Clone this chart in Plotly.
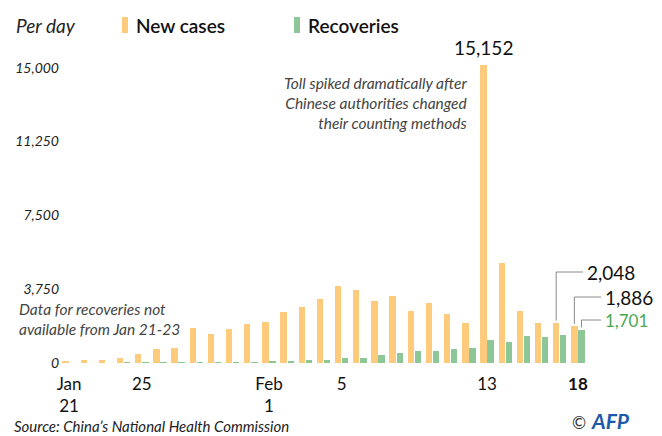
import plotly.graph_objects as go

# ---- data ----
dates = ["Jan 21", "Jan 22", "Jan 23", "Jan 24", "Jan 25", "Jan 26", "Jan 27", "Jan 28",
         "Jan 29", "Jan 30", "Jan 31", "Feb 1", "Feb 2", "Feb 3", "Feb 4", "Feb 5", "Feb 6",
         "Feb 7", "Feb 8", "Feb 9", "Feb 10", "Feb 11", "Feb 12", "Feb 13", "Feb 14",
         "Feb 15", "Feb 16", "Feb 17", "Feb 18"]
new_cases = [77, 149, 131, 259, 444, 688, 769, 1771, 1459, 1737, 1982, 2102, 2590, 2829,
             3235, 3887, 3694, 3143, 3399, 2656, 3062, 2478, 2015, 15152, 5090, 2641,
             2009, 2048, 1886]
recoveries = [None, None, None, 6, 3, 11, 2, 9, 43, 21, 47, 72, 85, 147, 157, 262, 261,
              387, 510, 599, 632, 715, 744, 1171, 1081, 1373, 1323, 1425, 1701]
tick_dates = ["Jan 21", "Jan 25", "Feb 1", "Feb 5", "Feb 13", "Feb 18"]
tick_text = ["Jan<br>21", "25", "Feb<br>1", "5", "13", "<b>18</b>"]
y_ticks = [0, 3750, 7500, 11250, 15000]
y_tick_text = ["0", "3,750", "7,500", "11,250", "15,000"]
note_spike = ["Toll spiked dramatically after", "Chinese authorities changed",
              "their counting methods"]
note_recov = ["Data for recoveries not", "available from Jan 21-23"]

ORANGE = "#FDCB7B"
GREEN = "#8DC697"
FONT = "Lato"

W, H = 662, 436
ML, MR, MT, MB = 60, 75, 48, 73
PW, PH = W - ML - MR, H - MT - MB
YMAX = 16000
XMIN, XMAX = -0.5, len(dates) - 0.5
BW = 0.35
OFF_O, OFF_G = -0.37, 0.02

idx = list(range(len(dates)))

def xp(v):  # data x -> paper
    return (v - XMIN) / (XMAX - XMIN)

def yp(v):  # data y -> paper
    return v / YMAX

def pxx(p):  # pixel x -> paper
    return (p - ML) / PW

def pxy(p):  # pixel y -> paper
    return (H - MB - p) / PH

fig = go.Figure()
fig.add_trace(go.Bar(x=idx, y=new_cases, width=BW, offset=OFF_O, marker_color=ORANGE,
                     marker_line_width=0, name="New cases", showlegend=False))
fig.add_trace(go.Bar(x=idx, y=recoveries, width=BW, offset=OFF_G, marker_color=GREEN,
                     marker_line_width=0, name="Recoveries", showlegend=False))

shapes = []
ann = []
line_col = "#8a8a8a"

def txt(text, x_px, y_px, xanchor="left", yanchor="middle", size=15, color="#222",
        align="left", **fkw):
    ann.append(dict(text=text, x=pxx(x_px), y=pxy(y_px), xref="paper", yref="paper",
                    xanchor=xanchor, yanchor=yanchor, align=align, showarrow=False,
                    font=dict(family=FONT, size=size, color=color, **fkw)))

# legend
shapes.append(dict(type="rect", xref="paper", yref="paper", x0=pxx(122), x1=pxx(128),
                   y0=pxy(33), y1=pxy(17), fillcolor=ORANGE, line_width=0))
shapes.append(dict(type="rect", xref="paper", yref="paper", x0=pxx(294), x1=pxx(300),
                   y0=pxy(33), y1=pxy(17), fillcolor=GREEN, line_width=0))
txt("Per day", 14, 25, size=19, color="#222", style="italic")
txt("New cases", 134, 25, size=19, color="#111", weight=600)
txt("Recoveries", 306, 25, size=19, color="#111", weight=600)

# peak label
ipk = new_cases.index(max(new_cases))
ann.append(dict(text=f"{new_cases[ipk]:,}", x=xp(ipk + OFF_O + BW / 2), y=yp(new_cases[ipk]),
                xref="paper", yref="paper", xanchor="center", yanchor="bottom",
                yshift=4, showarrow=False,
                font=dict(family=FONT, size=19, color="#111")))
txt("<br>".join(note_spike), 469, 103, xanchor="right", align="right", size=15.5,
    color="#444", style="italic")
txt("<br>".join(note_recov), 17, 319, xanchor="left", align="left", size=15.5,
    color="#444", style="italic")

# leader lines + labels for last values
def leader(xc, ytop_val, y_px, x_end_px, text, color, size):
    shapes.append(dict(type="line", xref="paper", yref="paper", x0=xp(xc), x1=xp(xc),
                       y0=yp(ytop_val) + 2 / PH, y1=pxy(y_px), line=dict(color=line_col, width=1)))
    shapes.append(dict(type="line", xref="paper", yref="paper", x0=xp(xc), x1=pxx(x_end_px),
                       y0=pxy(y_px), y1=pxy(y_px), line=dict(color=line_col, width=1)))
    txt(text, x_end_px + 2, y_px, size=size, color=color)

n = len(dates)
leader(n - 2 + OFF_O + BW / 2, new_cases[n - 2], 272, 583, f"{new_cases[n-2]:,}", "#111", 19)
leader(n - 1 + OFF_O + BW / 2, new_cases[n - 1], 297, 601, f"{new_cases[n-1]:,}", "#111", 19)
leader(n - 1 + OFF_G + BW / 2, recoveries[n - 1], 320, 601, f"{recoveries[n-1]:,}", "#4CA852", 17)

# source + credit
txt("Source: China’s National Health Commission", 12, 426, size=15, color="#222", style="italic")
txt("©", 588, 435, xanchor="right", yanchor="bottom", size=17, color="#333")
txt("<b><i>AFP</i></b>", 589, 435, yanchor="bottom", size=21, color="#1E5AA8")

fig.update_layout(
    width=W, height=H, margin=dict(l=ML, r=MR, t=MT, b=MB),
    paper_bgcolor="white", plot_bgcolor="white",
    barmode="overlay", bargap=0,
    shapes=shapes, annotations=ann,
    xaxis=dict(range=[XMIN, XMAX], tickvals=[dates.index(d) for d in tick_dates],
               ticktext=tick_text, showgrid=False, zeroline=False, showline=False,
               ticks="", tickangle=0, fixedrange=True, ticklabelstandoff=9,
               tickfont=dict(family=FONT, size=17, color="#111")),
    yaxis=dict(range=[0, YMAX], tickvals=y_ticks, ticktext=y_tick_text, showgrid=False,
               zeroline=False, showline=False, ticks="", fixedrange=True,
               tickfont=dict(family=FONT, size=14, color="#222", style="italic")),
    font=dict(family=FONT),
)

fig.write_html("out.html", config={"displayModeBar": False},
               post_script="document.body.style.margin='0';document.body.style.padding='0';")
